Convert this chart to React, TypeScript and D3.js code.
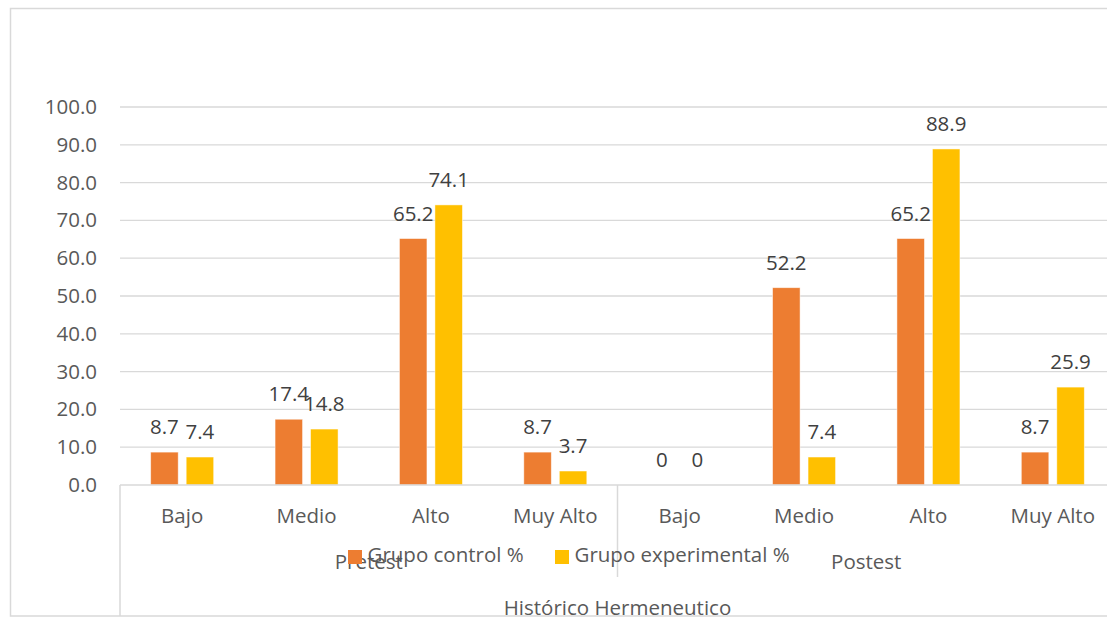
import React from "react";
import * as d3 from "d3";

const groups = ["Pretest", "Postest"];
const levels = ["Bajo", "Medio", "Alto", "Muy Alto"];
const series = ["Grupo control %", "Grupo experimental %"];
const control = [8.7, 17.4, 65.2, 8.7, 0, 52.2, 65.2, 8.7];
const experimental = [7.4, 14.8, 74.1, 3.7, 0, 7.4, 88.9, 25.9];
const yTicks = [0, 10, 20, 30, 40, 50, 60, 70, 80, 90, 100];
const axisTitle = "Histórico Hermeneutico";
const colors = ["#ED7D31", "#FFC000"];

const W = 1107;
const H = 618;
const FONT = "'Open Sans', sans-serif";

const App: React.FC = () => {
  const left = 120;
  const right = 1115; // plot runs past the picture edge, as in the source
  const top = 107;
  const bottom = 485;

  const cats = groups.flatMap((g) => levels.map((l) => `${g}|${l}`));
  const x0 = d3.scaleBand<string>().domain(cats).range([left, right]);
  const bw = x0.bandwidth();
  const x1 = d3
    .scaleBand<string>()
    .domain(series)
    .range([bw / 2 - 31.5, bw / 2 + 31.5])
    .paddingInner(0.225);
  const y = d3.scaleLinear().domain([0, 100]).range([bottom, top]);
  const vals = [control, experimental];

  const fmt = (v: number) => (v === 0 ? "0" : v.toFixed(1));
  const grid = "#d9d9d9";

  const groupRange = (gi: number) => {
    const first = x0(`${groups[gi]}|${levels[0]}`) ?? 0;
    const last = (x0(`${groups[gi]}|${levels[levels.length - 1]}`) ?? 0) + bw;
    return [first, last];
  };

  return (
    <div style={{ position: "absolute", left: 0, top: 0 }}>
      <svg width={W} height={H} style={{ display: "block", fontFamily: FONT }}>
        <rect x={0} y={0} width={W} height={H} fill="#fff" />
        {/* outer border, cut on the right */}
        <path d={`M${W + 5},8.5 H10.5 V616 H${W + 5}`} fill="none" stroke={grid} stroke-width={1.5} />

        {yTicks.map((t) => (
          <g key={t}>
            {t > 0 && (
              <line x1={left} x2={W} y1={y(t)} y2={y(t)} stroke={grid} strokeWidth={1.3} />
            )}
            <text x={97} y={y(t) + 7} textAnchor="end" fontSize={20.5} fill="#595959">
              {t.toFixed(1)}
            </text>
          </g>
        ))}

        {cats.map((c, ci) => (
          <g key={c} transform={`translate(${x0(c)},0)`}>
            {series.map((s, si) => {
              const v = vals[si][ci];
              const bx = x1(s) ?? 0;
              return (
                <g key={s}>
                  {v > 0 && (
                    <rect
                      x={bx}
                      y={y(v)}
                      width={x1.bandwidth()}
                      height={bottom - y(v)}
                      fill={colors[si]}
                      stroke="#fff"
                      strokeOpacity={0.6}
                      strokeWidth={0.8}
                    />
                  )}
                  <text
                    x={bx + x1.bandwidth() / 2}
                    y={y(v) - 18}
                    textAnchor="middle"
                    fontSize={20.5}
                    fill="#404040"
                  >
                    {fmt(v)}
                  </text>
                </g>
              );
            })}
            <text x={bw / 2} y={523} textAnchor="middle" fontSize={20.5} fill="#595959">
              {c.split("|")[1]}
            </text>
          </g>
        ))}

        {/* category axis */}
        <line x1={left} x2={W} y1={bottom} y2={bottom} stroke={grid} strokeWidth={1.3} />
        <line x1={left} x2={left} y1={bottom} y2={616} stroke={grid} strokeWidth={1.5} />
        <line
          x1={groupRange(0)[1]}
          x2={groupRange(0)[1]}
          y1={bottom}
          y2={577}
          stroke={grid}
          strokeWidth={1.5}
        />
        {groups.map((g, gi) => {
          const [a, b] = groupRange(gi);
          return (
            <text key={g} x={(a + b) / 2} y={569} textAnchor="middle" fontSize={20.5} fill="#595959">
              {g}
            </text>
          );
        })}
        <text x={(left + right) / 2} y={615} textAnchor="middle" fontSize={20.5} fill="#595959">
          {axisTitle}
        </text>

        {/* legend */}
        {series.map((s, si) => {
          const lx = si === 0 ? 348 : 555;
          return (
            <g key={s} transform={`translate(${lx},550)`}>
              <rect width={14} height={14} fill={colors[si]} />
              <text x={19.5} y={12} fontSize={20.5} fill="#595959">
                {s}
              </text>
            </g>
          );
        })}
      </svg>
    </div>
  );
};

export default App;
